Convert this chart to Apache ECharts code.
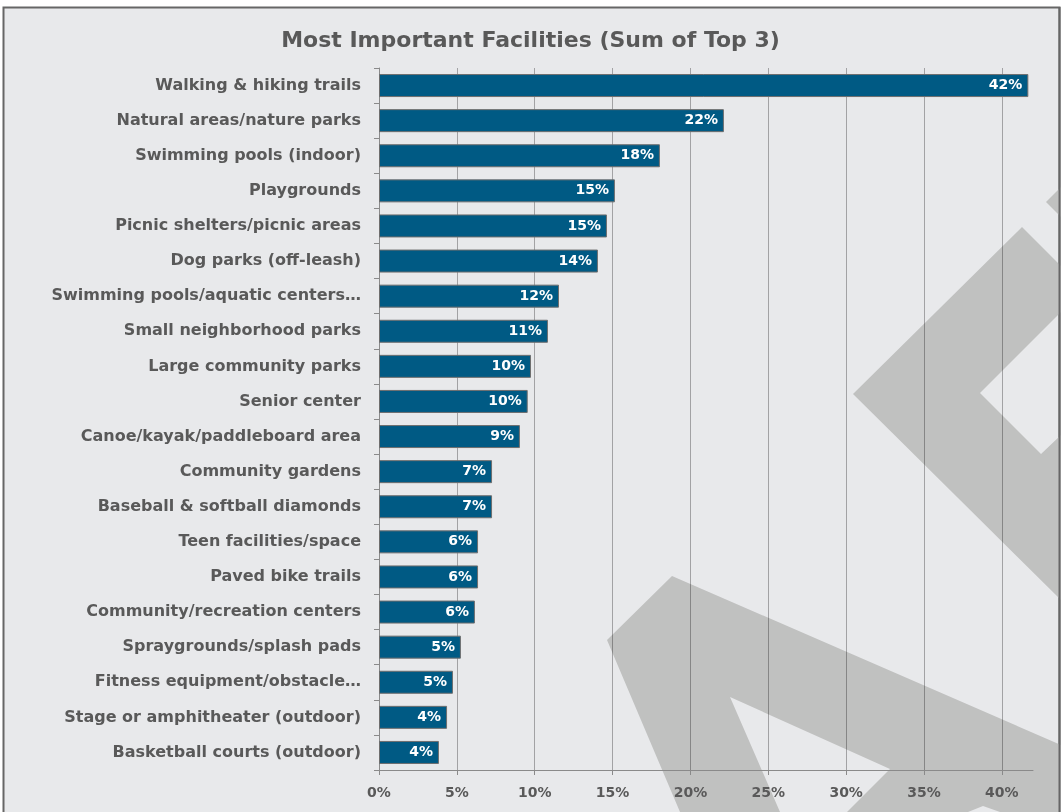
<!DOCTYPE html>
<html>
<head>
<meta charset="utf-8">
<script src="https://cdn.jsdelivr.net/npm/echarts@6/dist/echarts.min.js"></script>
<style>
  html, body { margin: 0; padding: 0; background: #ffffff; }
  #frame { position: relative; width: 1061px; height: 812px; overflow: hidden; }
  #backdrop, #chart { position: absolute; left: 0; top: 0; width: 1061px; height: 812px; }
</style>
</head>
<body>
<div id="frame">
  <svg id="backdrop" width="1061" height="812"></svg>
  <div id="chart"></div>
</div>
<script>
// Facilities ranked by share of respondents naming them in their top three
const categories = [
  'Walking & hiking trails',
  'Natural areas/nature parks',
  'Swimming pools (indoor)',
  'Playgrounds',
  'Picnic shelters/picnic areas',
  'Dog parks (off-leash)',
  'Swimming pools/aquatic centers\u2026',
  'Small neighborhood parks',
  'Large community parks',
  'Senior center',
  'Canoe/kayak/paddleboard area',
  'Community gardens',
  'Baseball & softball diamonds',
  'Teen facilities/space',
  'Paved bike trails',
  'Community/recreation centers',
  'Spraygrounds/splash pads',
  'Fitness equipment/obstacle\u2026',
  'Stage or amphitheater (outdoor)',
  'Basketball courts (outdoor)'
];

// Percent of respondents (sum of first, second and third choices)
const shares = [41.7, 22.15, 18.04, 15.15, 14.64, 14.06, 11.56, 10.85, 9.76, 9.55,
                9.05, 7.26, 7.26, 6.36, 6.36, 6.16, 5.26, 4.75, 4.37, 3.85];

const titleText = 'Most Important Facilities (Sum of Top 3)';
const axisMax = 42;
const axisStep = 5;

// Background logo shapes (decorative, in pixels)
const logoShapes = [
  [[1046, 202], [1061, 187], [1061, 217]],
  [[1022, 227], [1061, 266], [1061, 312], [980, 393], [1041, 454], [1061, 435], [1061, 600], [853, 394]],
  [[607, 640], [672, 576], [1061, 745], [1061, 812], [1000, 812], [983, 806], [968, 812],
   [847, 812], [890, 769], [730, 697], [780, 812], [680, 812]]
];

const ink = '#595959';
const font = '"DejaVu Sans", Verdana, sans-serif';

// Panel and logo drawn underneath the transparent chart canvas
const svgNS = 'http://www.w3.org/2000/svg';
const backdrop = document.getElementById('backdrop');
const panel = document.createElementNS(svgNS, 'rect');
panel.setAttribute('x', '3.5');
panel.setAttribute('y', '7.5');
panel.setAttribute('width', '1056');
panel.setAttribute('height', '820');
panel.setAttribute('fill', '#e8e9eb');
panel.setAttribute('stroke', '#666666');
panel.setAttribute('stroke-width', '2');
backdrop.appendChild(panel);
logoShapes.forEach(pts => {
  const poly = document.createElementNS(svgNS, 'polygon');
  poly.setAttribute('points', pts.map(p => p.join(',')).join(' '));
  poly.setAttribute('fill', '#c0c1c0');
  backdrop.appendChild(poly);
});
// keep the panel's right border above the logo
const edge = document.createElementNS(svgNS, 'line');
edge.setAttribute('x1', '1059.5'); edge.setAttribute('y1', '7');
edge.setAttribute('x2', '1059.5'); edge.setAttribute('y2', '812');
edge.setAttribute('stroke', '#666666'); edge.setAttribute('stroke-width', '2');
backdrop.appendChild(edge);

const chart = echarts.init(document.getElementById('chart'), null, { renderer: 'canvas' });

chart.setOption({
  animation: false,
  backgroundColor: 'transparent',
  title: {
    text: titleText,
    left: 'center',
    top: 25,
    textStyle: { fontFamily: font, fontWeight: 'bold', fontSize: 22, color: ink }
  },
  grid: { left: 379, right: 28, top: 68, bottom: 42, containLabel: false },
  xAxis: {
    type: 'value',
    min: 0,
    max: axisMax,
    interval: axisStep,
    axisLine: { show: true, lineStyle: { color: '#8a8a8a', width: 1 } },
    axisTick: { show: true, length: 5, lineStyle: { color: '#8a8a8a' } },
    axisLabel: {
      showMaxLabel: false,
      margin: 16,
      fontFamily: font, fontWeight: 'bold', fontSize: 14, color: ink,
      formatter: v => (v % axisStep === 0 ? v + '%' : '')
    },
    splitLine: { show: true, showMaxLine: false, lineStyle: { color: 'rgba(0,0,0,0.3)', width: 1 } }
  },
  yAxis: {
    type: 'category',
    data: categories,
    inverse: true,
    axisLine: { show: true, lineStyle: { color: '#8a8a8a', width: 1 } },
    axisTick: { show: true, length: 5, lineStyle: { color: '#8a8a8a' } },
    axisLabel: {
      margin: 18,
      fontFamily: font, fontWeight: 'bold', fontSize: 16, color: ink
    },
    splitLine: { show: false }
  },
  series: [{
    type: 'bar',
    data: shares,
    barWidth: 23,
    itemStyle: { color: '#005a84', borderColor: '#6e6e6e', borderWidth: 1 },
    label: {
      show: true,
      position: 'insideRight',
      distance: 6,
      fontFamily: font, fontWeight: 'bold', fontSize: 14, color: '#ffffff',
      formatter: p => Math.round(p.value) + '%'
    }
  }]
});
</script>
</body>
</html>
